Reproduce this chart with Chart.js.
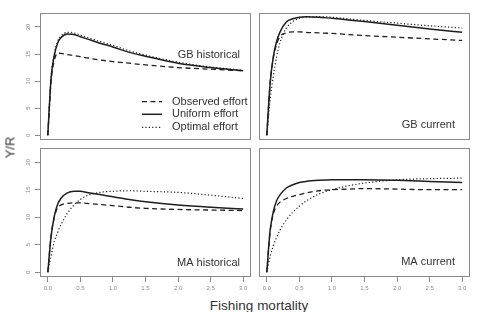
<!DOCTYPE html>
<html>
<head>
<meta charset="utf-8">
<script src="https://cdn.jsdelivr.net/npm/chart.js@4.4.1/dist/chart.umd.min.js"></script>
<style>
  html, body { margin: 0; padding: 0; background: #fff; }
  body { width: 483px; height: 312px; position: relative; overflow: hidden; font-family: "Liberation Sans", Arial, sans-serif; }
  .panel { position: absolute; }
  .lbl { position: absolute; color: #333; white-space: nowrap; }
</style>
</head>
<body>
<div class="panel" id="p0" style="left:0px;top:0px;width:251px;height:140px"><canvas id="c0"></canvas></div>
<div class="panel" id="p1" style="left:259px;top:13px;width:211px;height:127px"><canvas id="c1"></canvas></div>
<div class="panel" id="p2" style="left:0px;top:148px;width:251px;height:147px"><canvas id="c2"></canvas></div>
<div class="panel" id="p3" style="left:259px;top:148px;width:211px;height:147px"><canvas id="c3"></canvas></div>
<div class="lbl" id="ylab" style="left:-6px;top:140px;width:32px;text-align:center;font-size:13px;transform:rotate(-90deg);">Y/R</div>
<div class="lbl" id="xlab" style="left:159px;top:298px;width:200px;text-align:center;font-size:13.5px;">Fishing mortality</div>
<script>
// ---- data ----
const fishingMortality = [0, 0.05, 0.1, 0.15, 0.2, 0.3, 0.4, 0.5, 0.6, 0.8, 1.0, 1.25, 1.5, 2.0, 2.5, 3.0];

const gbHistObserved = [0, 10.0, 13.8, 15.2, 15.1, 14.9, 14.7, 14.5, 14.3, 13.9, 13.6, 13.3, 13.0, 12.5, 12.2, 11.9];
const gbHistUniform  = [0, 10.5, 14.8, 17.0, 18.0, 18.7, 18.6, 18.2, 17.8, 17.0, 16.3, 15.3, 14.6, 13.3, 12.5, 11.9];
const gbHistOptimal  = [0, 10.8, 15.0, 17.3, 18.3, 19.0, 18.9, 18.5, 18.1, 17.3, 16.6, 15.6, 14.8, 13.5, 12.6, 12.0];

const gbCurObserved = [0, 9.5, 14.3, 16.8, 18.2, 18.9, 19.1, 19.1, 19.0, 18.9, 18.8, 18.6, 18.4, 18.1, 17.8, 17.5];
const gbCurUniform  = [0, 9.5, 14.5, 17.3, 19.0, 20.9, 21.5, 21.8, 21.9, 21.8, 21.6, 21.3, 21.0, 20.3, 19.6, 19.0];
const gbCurOptimal  = [0, 6.5, 10.9, 14.5, 17.0, 19.8, 21.0, 21.6, 21.8, 21.9, 21.8, 21.5, 21.2, 20.7, 20.2, 19.8];

const maHistObserved = [0, 6.5, 10.0, 11.7, 12.2, 12.5, 12.6, 12.6, 12.5, 12.3, 12.1, 11.8, 11.6, 11.4, 11.3, 11.2];
const maHistUniform  = [0, 6.5, 10.2, 12.3, 13.4, 14.4, 14.7, 14.7, 14.5, 14.1, 13.7, 13.2, 12.8, 12.2, 11.8, 11.5];
const maHistOptimal  = [0, 3.0, 5.6, 7.2, 8.6, 10.7, 12.2, 13.2, 13.9, 14.5, 14.7, 14.8, 14.7, 14.5, 14.0, 13.4];

const maCurObserved = [0, 7.3, 10.6, 12.0, 12.7, 13.4, 13.8, 14.1, 14.4, 14.8, 15.0, 15.1, 15.2, 15.1, 15.0, 15.0];
const maCurUniform  = [0, 7.5, 11.0, 13.0, 14.0, 15.3, 15.9, 16.3, 16.5, 16.7, 16.8, 16.8, 16.8, 16.7, 16.5, 16.3];
const maCurOptimal  = [0, 2.8, 4.8, 6.3, 7.6, 9.5, 10.9, 12.0, 12.9, 14.2, 15.0, 15.7, 16.2, 16.8, 17.0, 17.1];

const seriesNames = ["Observed effort", "Uniform effort", "Optimal effort"];
const panelTitles = ["GB historical", "GB current", "MA historical", "MA current"];
const xTickValues = [0, 0.5, 1.0, 1.5, 2.0, 2.5, 3.0];
const yTickValues = [0, 5, 10, 15, 20];

// ---- styling ----
const LINE = '#1e1e1e';
const styles = [
  { borderDash: [5, 3.5], borderWidth: 1.3 },
  { borderDash: [], borderWidth: 1.5 },
  { borderDash: [1.2, 2.2], borderWidth: 1.2 }
];
const panelSeries = [
  [gbHistObserved, gbHistUniform, gbHistOptimal],
  [gbCurObserved, gbCurUniform, gbCurOptimal],
  [maHistObserved, maHistUniform, maHistOptimal],
  [maCurObserved, maCurUniform, maCurOptimal]
];
const panelCfg = [
  { showX: false, showY: true,  padTop: 13, labelRight: 11, labelY: 42, legend: true },
  { showX: false, showY: false, padTop: 0,  labelRight: 15, labelY: 112, legend: false },
  { showX: true,  showY: true,  padTop: 0,  labelRight: 11, labelY: 114.5, legend: false },
  { showX: true,  showY: false, padTop: 0,  labelRight: 15, labelY: 113.5, legend: false }
];

const FONT = "'Liberation Sans', Arial, sans-serif";

const boxPlugin = {
  id: 'boxAndText',
  afterDraw(chart) {
    const ca = chart.chartArea;
    const ctx = chart.ctx;
    const cfg = chart.options.plugins.boxAndText;
    ctx.save();
    ctx.strokeStyle = '#8a8a8a';
    ctx.lineWidth = 1;
    ctx.strokeRect(Math.round(ca.left) + 0.5, Math.round(ca.top) + 0.5,
                   Math.round(ca.right - ca.left) - 1, Math.round(ca.bottom - ca.top) - 1);
    // panel title
    ctx.fillStyle = '#333';
    ctx.font = "11px " + FONT;
    ctx.textAlign = 'right';
    ctx.textBaseline = 'middle';
    ctx.fillText(cfg.title, ca.right - cfg.labelRight, ca.top + cfg.labelY);
    // legend
    if (cfg.legend) {
      const rows = [101.7, 114.3, 127.3];
      chart.data.datasets.forEach((ds, i) => {
        const y = rows[i];
        ctx.strokeStyle = ds.borderColor;
        ctx.lineWidth = ds.borderWidth;
        ctx.setLineDash(ds.borderDash || []);
        ctx.beginPath();
        ctx.moveTo(142, y);
        ctx.lineTo(162, y);
        ctx.stroke();
        ctx.setLineDash([]);
        ctx.fillStyle = '#333';
        ctx.textAlign = 'left';
        ctx.fillText(ds.label, 172, y);
      });
    }
    ctx.restore();
  }
};

function makeChart(idx) {
  const cfg = panelCfg[idx];
  const datasets = panelSeries[idx].map((arr, s) => ({
    label: seriesNames[s],
    data: fishingMortality.map((f, k) => ({ x: f, y: arr[k] })),
    borderColor: LINE,
    borderWidth: styles[s].borderWidth,
    borderDash: styles[s].borderDash,
    pointRadius: 0,
    fill: false,
    cubicInterpolationMode: 'monotone'
  }));
  return new Chart(document.getElementById('c' + idx), {
    type: 'line',
    data: { datasets },
    plugins: [boxPlugin],
    options: {
      responsive: true,
      maintainAspectRatio: false,
      animation: false,
      devicePixelRatio: 1,
      layout: { padding: { top: cfg.padTop, left: 0, right: 0, bottom: 0 } },
      plugins: {
        legend: { display: false },
        tooltip: { enabled: false },
        boxAndText: { title: panelTitles[idx], labelRight: cfg.labelRight, labelY: cfg.labelY, legend: cfg.legend }
      },
      scales: {
        x: {
          type: 'linear',
          min: -0.12, max: 3.12,
          display: cfg.showX,
          afterBuildTicks: s => { s.ticks = xTickValues.map(v => ({ value: v })); },
          afterFit: s => {
            s.height = cfg.showX ? 18 : 0;
            s.paddingLeft = 0; s.paddingRight = 0; s.paddingTop = 0; s.paddingBottom = 0;
          },
          border: { display: false },
          grid: { drawOnChartArea: false, drawTicks: true, tickLength: 5, color: '#8a8a8a' },
          ticks: {
            autoSkip: false, maxRotation: 0, minRotation: 0, padding: 3,
            color: '#8c8c8c', font: { size: 6, family: FONT },
            callback: v => Number(v).toFixed(1)
          }
        },
        y: {
          type: 'linear',
          min: -0.87, max: 22.57,
          display: cfg.showY,
          afterBuildTicks: s => { s.ticks = yTickValues.map(v => ({ value: v })); },
          afterFit: s => {
            s.width = cfg.showY ? 40 : 0;
            s.paddingLeft = 0; s.paddingRight = 0; s.paddingTop = 0; s.paddingBottom = 0;
          },
          border: { display: false },
          grid: { drawOnChartArea: false, drawTicks: true, tickLength: 5, color: '#8a8a8a' },
          ticks: {
            autoSkip: false, minRotation: 90, maxRotation: 90, padding: 3, crossAlign: 'center',
            color: '#8c8c8c', font: { size: 6, family: FONT },
            callback: v => String(v)
          }
        }
      }
    }
  });
}
[0, 1, 2, 3].forEach(makeChart);
</script>
</body>
</html>
